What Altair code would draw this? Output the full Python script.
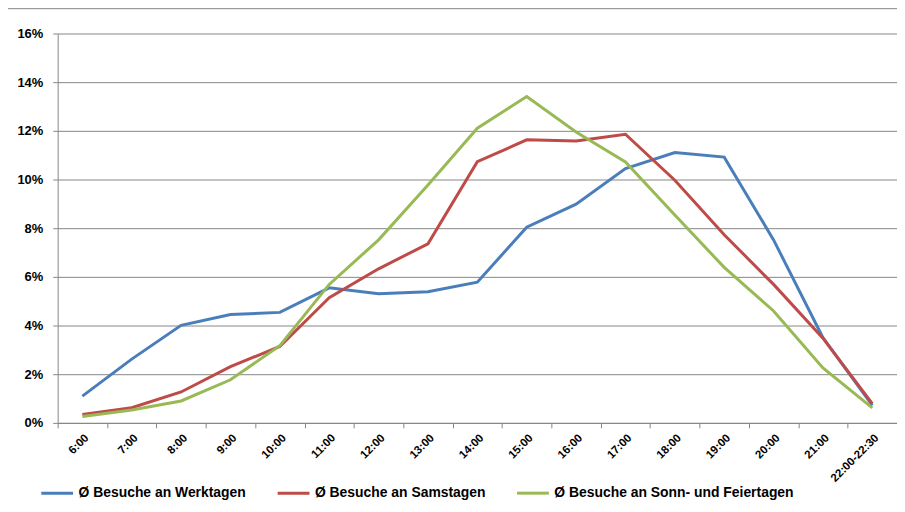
import altair as alt
import pandas as pd

hours = ["6:00", "7:00", "8:00", "9:00", "10:00", "11:00", "12:00", "13:00", "14:00",
         "15:00", "16:00", "17:00", "18:00", "19:00", "20:00", "21:00", "22:00-22:30"]
werktage = [1.10, 2.62, 4.01, 4.45, 4.54, 5.55, 5.31, 5.39, 5.78,
            8.04, 8.99, 10.45, 11.11, 10.92, 7.52, 3.50, 0.72]
samstage = [0.35, 0.62, 1.27, 2.31, 3.14, 5.14, 6.33, 7.36, 10.73,
            11.63, 11.58, 11.86, 9.97, 7.73, 5.69, 3.48, 0.79]
sonntage = [0.26, 0.53, 0.90, 1.77, 3.17, 5.69, 7.52, 9.77, 12.11,
            13.41, 11.95, 10.72, 8.54, 6.39, 4.60, 2.26, 0.62]

series_names = ["Ø Besuche an Werktagen", "Ø Besuche an Samstagen",
                "Ø Besuche an Sonn- und Feiertagen"]
series_colors = ["#4A7EBB", "#BE4B48", "#98B954"]

rows = []
for name, vals in zip(series_names, [werktage, samstage, sonntage]):
    for h, v in zip(hours, vals):
        rows.append({"Zeit": h, "Anteil": v / 100.0, "Serie": name})
df = pd.DataFrame(rows)

FONT = "Liberation Sans"

lines = alt.Chart(df).mark_line(strokeWidth=3).encode(
    x=alt.X("Zeit:N", sort=hours,
            scale=alt.Scale(type="band", paddingInner=0, paddingOuter=0),
            axis=alt.Axis(title=None, labelAngle=-45, labelFont=FONT, labelFontSize=11.5,
                          labelFontWeight="bold", labelColor="#000000",
                          tickBand="extent", tickSize=5, tickColor="#868686",
                          domainColor="#868686", labelPadding=4, grid=False)),
    y=alt.Y("Anteil:Q",
            scale=alt.Scale(domain=[0, 0.16], nice=False),
            axis=alt.Axis(title=None, format=".0%", values=[0, 0.02, 0.04, 0.06, 0.08, 0.10, 0.12, 0.14, 0.16],
                          labelFont=FONT, labelFontSize=13, labelFontWeight="bold",
                          labelColor="#000000", tickSize=5, tickColor="#868686",
                          domainColor="#868686", gridColor="#868686", gridOpacity=1,
                          labelPadding=10)),
    color=alt.Color("Serie:N", sort=series_names,
                    scale=alt.Scale(domain=series_names, range=series_colors),
                    legend=alt.Legend(title=None, orient="none", direction="horizontal",
                                      legendX=-18, legendY=445, columns=3,
                                      symbolType="stroke", symbolSize=1024,
                                      symbolStrokeWidth=3, columnPadding=25,
                                      labelFont=FONT, labelFontSize=14,
                                      labelFontWeight="bold", labelColor="#000000",
                                      labelOffset=4, labelLimit=0)),
)

border = alt.Chart(pd.DataFrame({"a": [0]})).mark_rect(
    fill=None, stroke="#868686", strokeWidth=1, clip=False
).encode(x=alt.value(-52), x2=alt.value(900), y=alt.value(-25), y2=alt.value(476))

chart = alt.layer(border, lines).properties(
    width=845, height=392,
    autosize=alt.AutoSizeParams(type="none"),
    padding={"left": 50, "top": 24, "right": 0, "bottom": 80},
).configure_view(stroke=None)

chart.save("out.html", embed_options={"renderer": "svg", "actions": False})
